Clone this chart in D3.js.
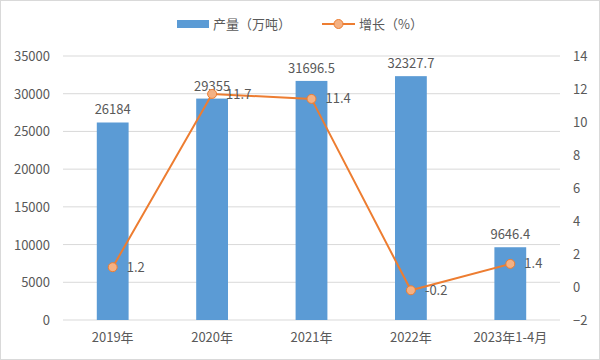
<!DOCTYPE html>
<html><head><meta charset="utf-8">
<script src="https://cdn.jsdelivr.net/npm/d3@7"></script>
<style>body{margin:0;background:#fff}svg{display:block}text{font-family:"Noto Sans CJK SC","Noto Sans",sans-serif;}</style>
</head><body><svg id="c" width="600" height="360"></svg>
<script>
const categories = ["2019年","2020年","2021年","2022年","2023年1-4月"];
const output = [26184, 29355, 31696.5, 32327.7, 9646.4];
const outputLabels = ["26184","29355","31696.5","32327.7","9646.4"];
const growth = [1.2, 11.7, 11.4, -0.2, 1.4];
const leftTicks = [0,5000,10000,15000,20000,25000,30000,35000];
const rightTicks = [-2,0,2,4,6,8,10,12,14];

const svg = d3.select("#c");
const W=600,H=360, L=63, R=560, T=56, B=320;
const txt="#595959";
svg.append("rect").attr("x",0.5).attr("y",0.5).attr("width",W-1).attr("height",H-1).attr("fill","#fff").attr("stroke","#d9d9d9");

const x = d3.scaleBand().domain(categories).range([L,R]).paddingInner(0.68).paddingOuter(0.34);
const xc = d3.scaleBand().domain(categories).range([L,R]);
const yL = d3.scaleLinear().domain([0,35000]).range([B,T]);
const yR = d3.scaleLinear().domain([-2,14]).range([B,T]);

// grid
svg.append("g").selectAll("line").data(leftTicks).join("line")
  .attr("x1",L).attr("x2",R).attr("y1",d=>yL(d)).attr("y2",d=>yL(d))
  .attr("stroke","#d9d9d9").attr("stroke-width",1);

// left axis
const ga = d3.axisLeft(yL).tickValues(leftTicks).tickFormat(d3.format("d")).tickSize(0).tickPadding(0);
const gl = svg.append("g").attr("transform",`translate(50,0)`).call(ga);
gl.select(".domain").remove();
gl.selectAll("text").attr("fill",txt).style("font-size","13px").attr("dy","0.35em");

const gr = svg.append("g").attr("transform",`translate(573,0)`).call(d3.axisRight(yR).tickValues(rightTicks).tickSize(0).tickPadding(0));
gr.select(".domain").remove();
gr.selectAll("text").attr("fill",txt).style("font-size","13px").attr("dy","0.35em");

const gb = svg.append("g").attr("transform",`translate(0,${B})`).call(d3.axisBottom(xc).tickSize(0).tickPadding(13));
gb.select(".domain").remove();
gb.selectAll("text").attr("fill",txt).style("font-size","13px");

// bars
svg.append("g").selectAll("rect").data(output).join("rect")
  .attr("x",(d,i)=>x(categories[i])).attr("width",x.bandwidth())
  .attr("y",d=>yL(d)).attr("height",d=>B-yL(d)).attr("fill","#5B9BD5");
svg.append("g").selectAll("text").data(output).join("text")
  .attr("x",(d,i)=>x(categories[i])+x.bandwidth()/2).attr("y",d=>yL(d)-8)
  .attr("text-anchor","middle").attr("fill",txt).style("font-size","13px")
  .text((d,i)=>outputLabels[i]);

// line
const cx = i => xc(categories[i])+xc.bandwidth()/2;
const line = d3.line().x((d,i)=>cx(i)).y(d=>yR(d));
svg.append("path").datum(growth).attr("d",line).attr("fill","none").attr("stroke","#ED7D31").attr("stroke-width",2);
svg.append("g").selectAll("circle").data(growth).join("circle")
  .attr("cx",(d,i)=>cx(i)).attr("cy",d=>yR(d)).attr("r",4.5)
  .attr("fill","#F4B183").attr("stroke","#ED7D31").attr("stroke-width",1);
svg.append("g").selectAll("text").data(growth).join("text")
  .attr("x",(d,i)=>cx(i)+14).attr("y",d=>yR(d)).attr("dy","0.35em")
  .attr("fill",txt).style("font-size","13px").text(d=>d);

// legend
svg.append("rect").attr("x",177).attr("y",20).attr("width",32).attr("height",8).attr("fill","#5B9BD5");
svg.append("text").attr("x",213).attr("y",24).attr("dy","0.35em").attr("fill",txt).style("font-size","13px").text("产量（万吨）");
svg.append("line").attr("x1",322).attr("x2",355).attr("y1",24).attr("y2",24).attr("stroke","#ED7D31").attr("stroke-width",2);
svg.append("circle").attr("cx",338.5).attr("cy",24).attr("r",4.5).attr("fill","#F4B183").attr("stroke","#ED7D31");
svg.append("text").attr("x",359).attr("y",24).attr("dy","0.35em").attr("fill",txt).style("font-size","13px").text("增长（%）");
</script></body></html>
